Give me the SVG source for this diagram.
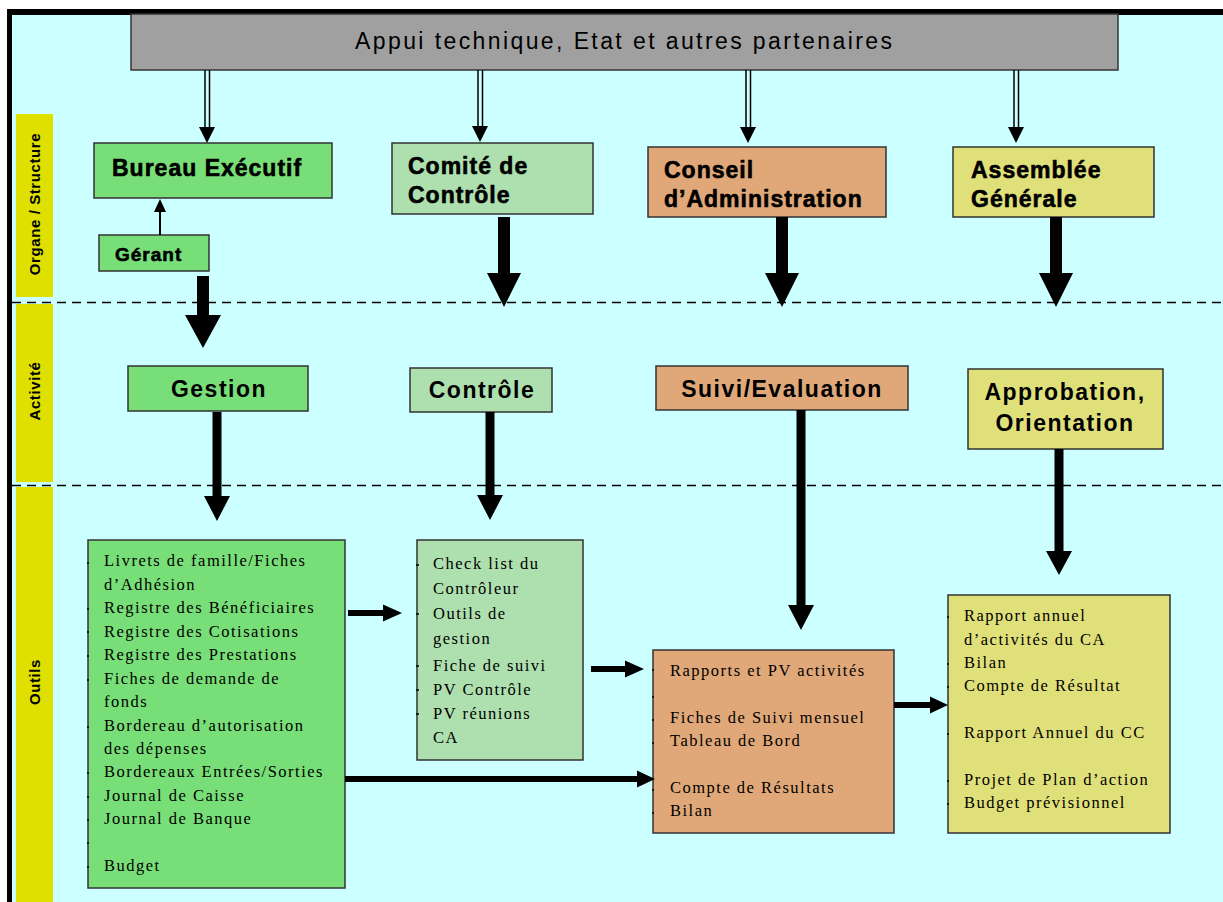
<svg xmlns="http://www.w3.org/2000/svg" width="1223" height="902" viewBox="0 0 1223 902">
  <style>
    .box { stroke: #333; stroke-width: 1.5; }
    .grey { fill: #A0A0A0; }
    .green { fill: #78DF78; }
    .lgreen { fill: #AEDFAE; }
    .orange { fill: #E0A878; }
    .yellow { fill: #E0E07A; }
    .band { fill: #DFDF00; }
    .title { font-family: "Liberation Sans", Arial, sans-serif; font-size: 23px; letter-spacing: 1px; fill: #000; }
    .org { font-family: "Liberation Sans", Arial, sans-serif; font-size: 23px; font-weight: bold; letter-spacing: 1px; fill: #000; stroke: #000; stroke-width: 0.6; }
    .act { font-family: "Liberation Sans", Arial, sans-serif; font-size: 23px; font-weight: bold; letter-spacing: 1.5px; fill: #000; text-anchor: middle; }
    .lbl { font-family: "Liberation Sans", Arial, sans-serif; font-size: 15px; font-weight: bold; letter-spacing: 0.6px; fill: #000; text-anchor: middle; }
    .list { font-family: "Liberation Serif", "Times New Roman", serif; font-size: 16.5px; letter-spacing: 1.5px; fill: #000; }
    .dash { stroke: #000; stroke-width: 1.5; stroke-dasharray: 9 6; fill: none; }
    .thin { stroke: #000; stroke-width: 1.5; fill: none; }
    .solid { fill: #000; stroke: none; }
    .tick { stroke: #000; stroke-width: 1.5; }
  </style>

  <!-- page background and frame -->
  <rect x="0" y="0" width="1223" height="902" fill="#FFFFFF"/>
  <rect x="12" y="15" width="1211" height="887" fill="#CCFFFF"/>
  <rect x="7" y="9" width="1216" height="6" fill="#000"/>
  <rect x="7" y="9" width="5" height="893" fill="#000"/>

  <!-- lane labels -->
  <g id="lane-organe">
    <rect class="band" x="16" y="114" width="37" height="183"/>
    <text class="lbl" transform="translate(40,204) rotate(-90)">Organe / Structure</text>
  </g>
  <g id="lane-activite">
    <rect class="band" x="16" y="304" width="37" height="178"/>
    <text class="lbl" transform="translate(40,391) rotate(-90)">Activité</text>
  </g>
  <g id="lane-outils">
    <rect class="band" x="16" y="487" width="37" height="415"/>
    <text class="lbl" transform="translate(40,682) rotate(-90)">Outils</text>
  </g>

  <!-- lane separators -->
  <line class="dash" x1="12" y1="302.5" x2="1223" y2="302.5"/>
  <line class="dash" x1="12" y1="485.5" x2="1223" y2="485.5"/>

  <!-- top partner bar -->
  <g id="partenaires">
    <rect class="box grey" x="131" y="14" width="987" height="56"/>
    <text class="title" x="355" y="49" textLength="538">Appui technique, Etat et autres partenaires</text>
  </g>

  <!-- governing bodies -->
  <g id="bureau">
    <rect class="box green" x="94" y="143" width="238" height="55"/>
    <text class="org" x="112" y="176">Bureau Exécutif</text>
  </g>
  <g id="gerant">
    <rect class="box green" x="99" y="235" width="110" height="36"/>
    <text class="org" x="115" y="261" style="font-size:19px">Gérant</text>
  </g>
  <g id="comite">
    <rect class="box lgreen" x="392" y="143" width="201" height="71"/>
    <text class="org" x="408" y="174">Comité de</text>
    <text class="org" x="408" y="203">Contrôle</text>
  </g>
  <g id="conseil">
    <rect class="box orange" x="648" y="147" width="238" height="70"/>
    <text class="org" x="664" y="178">Conseil</text>
    <text class="org" x="664" y="207">d’Administration</text>
  </g>
  <g id="assemblee">
    <rect class="box yellow" x="953" y="147" width="201" height="70"/>
    <text class="org" x="971" y="178">Assemblée</text>
    <text class="org" x="971" y="207">Générale</text>
  </g>

  <!-- activities -->
  <g id="gestion">
    <rect class="box green" x="128" y="366" width="180" height="45"/>
    <text class="act" x="219" y="397">Gestion</text>
  </g>
  <g id="controle">
    <rect class="box lgreen" x="410" y="368" width="142" height="44"/>
    <text class="act" x="482" y="398">Contrôle</text>
  </g>
  <g id="suivi">
    <rect class="box orange" x="656" y="366" width="252" height="44"/>
    <text class="act" x="782" y="397">Suivi/Evaluation</text>
  </g>
  <g id="approbation">
    <rect class="box yellow" x="968" y="369" width="195" height="80"/>
    <text class="act" x="1065" y="400">Approbation,</text>
    <text class="act" x="1065" y="431">Orientation</text>
  </g>

  <!-- tools -->
  <g id="outils-gestion">
    <rect class="box green" x="88" y="540" width="257" height="348"/>
    <g class="list">
      <text x="104" y="566">Livrets de famille/Fiches</text>
      <text x="104" y="590">d’Adhésion</text>
      <text x="104" y="613">Registre des Bénéficiaires</text>
      <text x="104" y="637">Registre des Cotisations</text>
      <text x="104" y="660">Registre des Prestations</text>
      <text x="104" y="684">Fiches de demande de</text>
      <text x="104" y="707">fonds</text>
      <text x="104" y="731">Bordereau d’autorisation</text>
      <text x="104" y="754">des dépenses</text>
      <text x="104" y="777">Bordereaux Entrées/Sorties</text>
      <text x="104" y="801">Journal de Caisse</text>
      <text x="104" y="824">Journal de Banque</text>
      <text x="104" y="871">Budget</text>
    </g>
    <path class="tick" d="M87,563h2M87,609h2M87,632h2M87,656h2M87,680h2M87,727h2M87,773h2M87,797h2M87,820h2M87,843h2M87,867h2"/>
  </g>
  <g id="outils-controle">
    <rect class="box lgreen" x="417" y="540" width="166" height="220"/>
    <g class="list">
      <text x="433" y="569">Check list du</text>
      <text x="433" y="594">Contrôleur</text>
      <text x="433" y="619">Outils de</text>
      <text x="433" y="644">gestion</text>
      <text x="433" y="671">Fiche de suivi</text>
      <text x="433" y="695">PV Contrôle</text>
      <text x="433" y="719">PV réunions</text>
      <text x="433" y="743">CA</text>
    </g>
    <path class="tick" d="M416,565h3M416,614h3M416,666h3M416,690h3M416,714h3"/>
  </g>
  <g id="outils-suivi">
    <rect class="box orange" x="653" y="650" width="241" height="183"/>
    <g class="list">
      <text x="670" y="676">Rapports et PV activités</text>
      <text x="670" y="723">Fiches de Suivi mensuel</text>
      <text x="670" y="746">Tableau de Bord</text>
      <text x="670" y="793">Compte de Résultats</text>
      <text x="670" y="816">Bilan</text>
    </g>
    <path class="tick" d="M652,670h2M652,697h2M652,720h2M652,743h2M652,790h2M652,813h2"/>
  </g>
  <g id="outils-approbation">
    <rect class="box yellow" x="948" y="595" width="222" height="238"/>
    <g class="list">
      <text x="964" y="621">Rapport annuel</text>
      <text x="964" y="645">d’activités du CA</text>
      <text x="964" y="668">Bilan</text>
      <text x="964" y="691">Compte de Résultat</text>
      <text x="964" y="738">Rapport Annuel du CC</text>
      <text x="964" y="785">Projet de Plan d’action</text>
      <text x="964" y="808">Budget prévisionnel</text>
    </g>
    <path class="tick" d="M947,617h2M947,664h2M947,687h2M947,734h2M947,781h2M947,804h2"/>
  </g>

  <!-- connectors -->
  <g id="connectors">
    <!-- double-line arrows from the partner bar -->
    <path class="thin" d="M205,70V129M209.5,70V129"/>
    <polygon class="solid" points="199,127 215,127 207,143"/>
    <path class="thin" d="M478,70V128M482.5,70V128"/>
    <polygon class="solid" points="472,126 488,126 480,142"/>
    <path class="thin" d="M746,70V129M750.5,70V129"/>
    <polygon class="solid" points="740,127 756,127 748,143"/>
    <path class="thin" d="M1014,70V129M1018.5,70V129"/>
    <polygon class="solid" points="1008,127 1024,127 1016,143"/>

    <!-- Gérant reports to Bureau Exécutif -->
    <path class="solid" d="M159,235V212H154L160,199L166,212H161V235Z"/>

    <!-- bodies to activities -->
    <path class="solid" d="M197,276H209V315H221L203,348L185,315H197Z"/>
    <path class="solid" d="M498,217H510V273H521L504,307L487,273H498Z"/>
    <path class="solid" d="M776,217H788V273H799L782,307L765,273H776Z"/>
    <path class="solid" d="M1050,217H1062V273H1073L1056,307L1039,273H1050Z"/>

    <!-- activities to tools -->
    <path class="solid" d="M212.5,412H221.5V496H230L217,521L204,496H212.5Z"/>
    <path class="solid" d="M485.5,412H494.5V495H503L490,520L477,495H485.5Z"/>
    <path class="solid" d="M796.5,410H805.5V605H814L801,630L788,605H796.5Z"/>
    <path class="solid" d="M1054.5,449H1063.5V551H1072L1059,575L1046,551H1054.5Z"/>

    <!-- flows between tool sets -->
    <path class="solid" d="M348,610H383V604.5L402,613L383,621.5V616H348Z"/>
    <path class="solid" d="M591,666H625V660.5L644,669L625,677.5V672H591Z"/>
    <path class="solid" d="M345,776H637V770.5L655,779L637,787.5V782H345Z"/>
    <path class="solid" d="M894,702H930V696.5L948,705L930,713.5V708H894Z"/>
  </g>
</svg>
